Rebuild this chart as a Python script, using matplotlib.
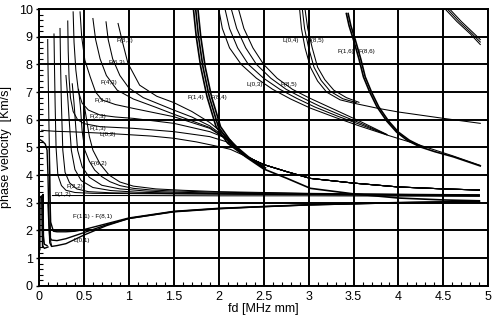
import matplotlib
matplotlib.use("Agg")
import matplotlib.pyplot as plt
from matplotlib.ticker import MultipleLocator

plt.rcParams['font.family'] = ['Liberation Sans', 'DejaVu Sans']

# ---- dispersion curves, fd [MHz mm] vs phase velocity [km/s] ----

# L(0,1) and the F(n,1) family with the spikes near fd = 0
n1_curves = [
    ([0.0, 0.04, 0.07, 0.09, 0.10, 0.11, 0.12, 0.14, 0.2, 0.3, 0.5, 0.75, 1.0, 1.5, 2.0, 2.5, 3.0, 3.5, 4.0, 4.5, 4.9],
     [5.3, 5.22, 5.12, 4.9, 4.0, 2.5, 1.55, 1.42, 1.45, 1.52, 1.83, 2.17, 2.43, 2.67, 2.78, 2.86, 2.92, 2.96, 3.0, 3.02, 3.03]),
    ([0.115, 0.12, 0.13, 0.16, 0.2, 0.3, 0.4, 0.5, 0.75, 1.0, 1.5, 2.0, 3.0, 4.0, 4.9],
     [5.0, 3.5, 2.3, 1.97, 1.95, 1.95, 1.97, 2.03, 2.24, 2.45, 2.69, 2.8, 2.93, 3.01, 3.05]),
    ([0.1, 0.11, 0.12, 0.14, 0.2, 0.3, 0.5, 0.75, 1.0, 1.5, 2.0, 3.0, 4.0, 4.9],
     [3.0, 2.2, 1.75, 1.65, 1.63, 1.7, 1.92, 2.2, 2.43, 2.68, 2.79, 2.92, 3.0, 3.04]),
    ([0.0, 0.01, 0.012, 0.03, 0.035, 0.04, 0.06, 0.1],
     [1.25, 1.3, 3.2, 3.25, 2.0, 1.45, 1.35, 1.4]),
    ([0.04, 0.045, 0.05, 0.06, 0.09],
     [1.4, 3.3, 1.8, 1.5, 1.45]),
]

# F(n,2) family running into the shear plateau, plus T(0,1)
n2_curves = [
    ([0.097, 0.10, 0.105, 0.11, 0.115, 0.12, 0.125, 0.13, 0.14],
     [8.9, 8.0, 7.0, 6.0, 5.0, 4.0, 2.5, 1.6, 1.45]),
    ([0.167, 0.172, 0.18, 0.19, 0.21, 0.25, 0.3, 0.4, 0.6, 1.0, 1.5, 2.0, 3.0, 4.0, 4.9],
     [9.1, 8.0, 6.5, 5.0, 4.0, 3.62, 3.45, 3.37, 3.34, 3.33, 3.32, 3.31, 3.29, 3.27, 3.25]),
    ([0.234, 0.24, 0.25, 0.265, 0.29, 0.34, 0.42, 0.55, 0.8, 1.2, 1.5, 2.0, 3.0, 4.0, 4.9],
     [9.3, 8.0, 6.5, 4.9, 4.1, 3.72, 3.5, 3.4, 3.36, 3.34, 3.33, 3.32, 3.3, 3.28, 3.26]),
    ([0.3, 0.32, 0.34, 0.36, 0.4, 0.47, 0.6, 0.8, 1.1, 1.5, 2.0, 3.0, 4.0, 4.9],
     [7.6, 6.8, 5.8, 4.9, 4.2, 3.8, 3.55, 3.44, 3.38, 3.35, 3.33, 3.3, 3.28, 3.26]),
    ([0.37, 0.39, 0.41, 0.43, 0.48, 0.56, 0.7, 0.9, 1.2, 1.5, 2.0, 3.0, 4.0, 4.9],
     [7.3, 6.6, 5.7, 4.9, 4.3, 3.92, 3.63, 3.5, 3.42, 3.38, 3.35, 3.31, 3.29, 3.27]),
    ([0.44, 0.46, 0.48, 0.51, 0.56, 0.62, 0.7, 0.79, 0.9, 1.05, 1.25, 1.46, 2.0, 3.0, 4.0, 4.9],
     [7.1, 6.5, 5.6, 4.9, 4.5, 4.18, 3.94, 3.76, 3.62, 3.52, 3.46, 3.43, 3.38, 3.33, 3.3, 3.28]),
    ([0.5, 0.53, 0.56, 0.6, 0.68, 0.78, 0.9, 1.05, 1.3, 1.6, 2.0, 3.0, 4.0, 4.9],
     [6.6, 6.0, 5.4, 4.9, 4.4, 4.0, 3.75, 3.6, 3.5, 3.45, 3.4, 3.34, 3.31, 3.29]),
    ([0.15, 1.0, 2.0, 3.0, 4.0, 4.9],
     [3.26, 3.26, 3.25, 3.25, 3.24, 3.23]),
]

# F(n,3) family and L(0,2) up to the crossing near fd = 2.1
n3_curves = [
    ([0.03, 0.1, 0.2, 0.4, 0.6, 0.79, 1.0, 1.25, 1.5, 1.75, 2.0, 2.13],
     [5.62, 5.6, 5.58, 5.56, 5.53, 5.5, 5.46, 5.41, 5.33, 5.2, 5.03, 4.93]),
    ([0.32, 0.325, 0.335, 0.35, 0.38, 0.43, 0.5, 0.68, 1.05, 1.5, 1.9, 2.13],
     [9.57, 8.5, 7.5, 6.8, 6.3, 6.0, 5.86, 5.75, 5.69, 5.57, 5.39, 5.16]),
    ([0.38, 0.39, 0.41, 0.44, 0.48, 0.55, 0.68, 0.85, 1.05, 1.5, 1.9, 2.13],
     [9.9, 8.8, 7.8, 7.0, 6.6, 6.35, 6.17, 6.1, 6.05, 5.87, 5.57, 5.27]),
    ([0.457, 0.475, 0.51, 0.57, 0.63, 0.7, 0.85, 1.05, 1.5, 1.9, 2.13],
     [9.9, 9.0, 8.16, 7.55, 7.0, 6.72, 6.55, 6.41, 6.11, 5.69, 5.2]),
    ([0.6, 0.63, 0.68, 0.75, 0.87, 1.05, 1.3, 1.5, 1.9, 2.13],
     [9.66, 8.9, 8.2, 7.6, 7.07, 6.75, 6.45, 6.2, 5.72, 5.2]),
    ([0.746, 0.77, 0.82, 0.9, 1.0, 1.16, 1.5, 1.7, 1.9, 2.13],
     [9.54, 8.9, 8.2, 7.6, 7.15, 6.8, 6.35, 6.1, 5.78, 5.22]),
    ([0.88, 0.93, 0.99, 1.12, 1.31, 1.5, 1.7, 1.9, 2.05, 2.13],
     [9.48, 8.8, 8.04, 7.25, 6.85, 6.62, 6.3, 5.9, 5.5, 5.25]),
]
# common upper branch after the crossing
n3_tail_x = [2.3, 2.5, 2.76, 3.02, 3.5, 4.0, 4.5, 4.9]
n3_tail_y = [4.68, 4.38, 4.12, 3.88, 3.71, 3.57, 3.5, 3.46]

# F(1,4)..F(8,4) bundle, steep, ending on the lower branch
n4_curves = [
    ([1.72, 1.75, 1.8, 1.87, 1.97, 2.1, 2.3, 2.5, 2.76, 3.02, 3.5, 4.0, 4.5, 4.9],
     [9.95, 9.0, 7.9, 6.83, 5.75, 5.15, 4.66, 4.22, 3.88, 3.52, 3.32, 3.17, 3.1, 3.07]),
    ([1.745, 1.775, 1.825, 1.895, 1.995, 2.125, 2.315, 2.51],
     [9.95, 9.0, 7.9, 6.83, 5.75, 5.15, 4.66, 4.24]),
    ([1.77, 1.8, 1.85, 1.92, 2.02, 2.15, 2.33, 2.52],
     [9.95, 9.0, 7.9, 6.83, 5.75, 5.15, 4.66, 4.26]),
]

# L(0,3) .. F(8,5) bundle
n5_curves = [
    ([2.0, 2.04, 2.12, 2.25, 2.42, 2.6, 2.8, 3.02, 3.3, 3.57, 3.87, 4.24, 4.6, 4.91],
     [10.0, 9.3, 8.6, 8.0, 7.5, 7.1, 6.75, 6.42, 6.08, 5.77, 5.45, 5.08, 4.7, 4.35]),
    ([2.07, 2.12, 2.21, 2.33, 2.5, 2.68, 2.87, 3.07, 3.33, 3.58, 3.87],
     [10.0, 9.3, 8.6, 8.0, 7.5, 7.1, 6.77, 6.46, 6.12, 5.82, 5.46]),
    ([2.14, 2.2, 2.3, 2.42, 2.58, 2.75, 2.94, 3.13, 3.37, 3.59, 3.87],
     [10.0, 9.3, 8.6, 8.0, 7.5, 7.1, 6.78, 6.48, 6.15, 5.86, 5.46]),
    ([2.22, 2.28, 2.38, 2.5, 2.65, 2.82, 3.0, 3.2, 3.4, 3.6, 3.87],
     [10.0, 9.3, 8.6, 8.0, 7.5, 7.1, 6.8, 6.5, 6.2, 5.9, 5.47]),
]

# L(0,4) .. F(8,5) bundle
n6_curves = [
    ([2.9, 2.92, 2.96, 3.02, 3.1, 3.2, 3.35, 3.5, 3.76, 4.0, 4.5, 4.91],
     [10.0, 9.3, 8.6, 7.9, 7.4, 7.0, 6.72, 6.6, 6.42, 6.28, 6.05, 5.87]),
    ([2.93, 2.955, 3.0, 3.06, 3.14, 3.24, 3.38, 3.53],
     [10.0, 9.3, 8.6, 7.9, 7.42, 7.03, 6.76, 6.62]),
    ([2.96, 2.99, 3.04, 3.1, 3.18, 3.28, 3.42, 3.56],
     [10.0, 9.3, 8.6, 7.9, 7.45, 7.07, 6.8, 6.63]),
]

# F(1,6)..F(8,6) bundle
n7_curves = [
    ([3.42, 3.45, 3.5, 3.56, 3.61, 3.68, 3.76, 3.87, 3.98, 4.1, 4.24, 4.4, 4.61, 4.91],
     [9.84, 9.4, 8.88, 8.2, 7.55, 7.0, 6.47, 5.95, 5.55, 5.25, 5.02, 4.85, 4.66, 4.33]),
    ([3.44, 3.47, 3.52, 3.58, 3.63, 3.7, 3.78, 3.89, 4.0, 4.12, 4.26],
     [9.84, 9.4, 8.88, 8.2, 7.55, 7.0, 6.47, 5.95, 5.55, 5.26, 5.03]),
]

# highest bundle, top right corner
n8_curves = [
    ([4.52, 4.65, 4.8, 4.91], [10.0, 9.55, 9.1, 8.72]),
    ([4.545, 4.675, 4.815, 4.91], [10.0, 9.55, 9.12, 8.81]),
    ([4.57, 4.7, 4.83, 4.91], [10.0, 9.55, 9.15, 8.9]),
]

mode_labels = ["F(8,3)", "F(6,3)", "F(4,3)", "F(3,3)", "F(2,3)", "F(1,3)", "L(0,2)",
               "F(6,2)", "F(2,2)", "F(1,2)", "F(1,1) - F(8,1)", "L(0,1)",
               "F(1,4)", "F(8,4)", "L(0,3)", "F(8,5)", "L(0,4)", "F(8,5)",
               "F(1,6)", "F(8,6)"]
label_x = [0.96, 0.87, 0.78, 0.71, 0.66, 0.65, 0.76,
           0.67, 0.4, 0.27, 0.6, 0.48,
           1.75, 2.0, 2.4, 2.78, 2.8, 3.08,
           3.41, 3.65]
label_y = [8.88, 8.08, 7.36, 6.68, 6.1, 5.7, 5.45,
           4.43, 3.6, 3.3, 2.52, 1.62,
           6.82, 6.82, 7.28, 7.28, 8.88, 8.88,
           8.46, 8.46]

fig = plt.figure(figsize=(4.96, 3.22), dpi=100)
ax = fig.add_axes([0.0786, 0.1127, 0.906, 0.859])

thin = 0.75
for xs, ys in n1_curves:
    ax.plot(xs, ys, color="black", lw=1.0)
for xs, ys in n2_curves:
    ax.plot(xs, ys, color="black", lw=thin)
for xs, ys in n3_curves:
    ax.plot(xs + n3_tail_x, ys + n3_tail_y, color="black", lw=thin)
for group in (n5_curves, n6_curves, n8_curves):
    for xs, ys in group:
        ax.plot(xs, ys, color="black", lw=thin)
for group in (n4_curves, n7_curves):
    for xs, ys in group:
        ax.plot(xs, ys, color="black", lw=1.2)

for txt, lx, ly in zip(mode_labels, label_x, label_y):
    ax.text(lx, ly, txt, fontsize=4.5, ha="center", va="center", color="black")

ax.set_xlim(0, 5)
ax.set_ylim(0, 10)
ax.xaxis.set_major_locator(MultipleLocator(0.5))
ax.xaxis.set_minor_locator(MultipleLocator(0.1))
ax.yaxis.set_major_locator(MultipleLocator(1))
ax.yaxis.set_minor_locator(MultipleLocator(0.2))
ax.set_xticks([0, 0.5, 1, 1.5, 2, 2.5, 3, 3.5, 4, 4.5, 5])
ax.set_xticklabels(["0", "0.5", "1", "1.5", "2", "2.5", "3", "3.5", "4", "4.5", "5"])

ax.grid(True, which="major", color="black", lw=1.4)
for sp in ax.spines.values():
    sp.set_linewidth(1.4)
ax.tick_params(which="minor", direction="in", length=3, width=0.8)
ax.tick_params(axis="x", which="major", direction="in", length=0, labelsize=9, pad=4)
ax.tick_params(axis="y", which="major", direction="out", length=2.5, width=1, labelsize=9, pad=2)

ax.set_xlabel("fd [MHz mm]", fontsize=9, labelpad=0)
ax.set_ylabel("phase velocity  [Km/s]", fontsize=9, labelpad=5)

fig.savefig("out.png", dpi=100)
